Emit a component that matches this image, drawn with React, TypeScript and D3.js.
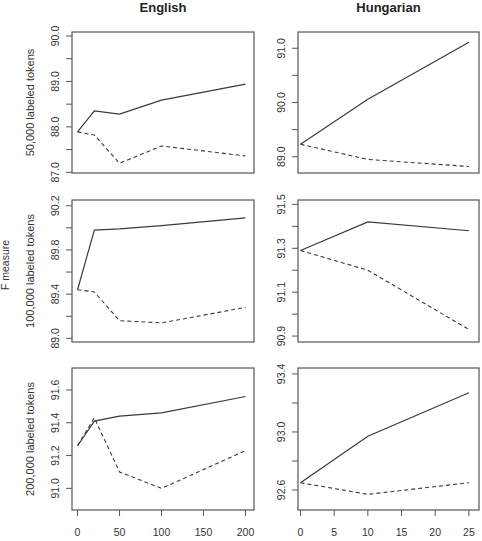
import React from "react";
import * as d3 from "d3";

// ---- data ----
const languages = ["English", "Hungarian"];
const rowLabels = ["50,000 labeled tokens", "100,000 labeled tokens", "200,000 labeled tokens"];
const yAxisTitle = "F measure";

const englishX = [0, 20, 50, 100, 200];
const hungarianX = [0, 10, 25];
const englishXTicks = [0, 50, 100, 150, 200];
const hungarianXTicks = [0, 5, 10, 15, 20, 25];

// English series (solid / dashed) per row
const en50kSolid = [87.89, 88.35, 88.28, 88.59, 88.94];
const en50kDashed = [87.89, 87.82, 87.2, 87.58, 87.36];
const en100kSolid = [89.44, 89.98, 89.99, 90.02, 90.09];
const en100kDashed = [89.44, 89.42, 89.16, 89.14, 89.28];
const en200kSolid = [91.26, 91.41, 91.44, 91.46, 91.56];
const en200kDashed = [91.26, 91.43, 91.1, 91.0, 91.23];

// Hungarian series
const hu50kSolid = [89.23, 90.06, 91.11];
const hu50kDashed = [89.23, 88.95, 88.82];
const hu100kSolid = [91.29, 91.42, 91.38];
const hu100kDashed = [91.29, 91.2, 90.93];
const hu200kSolid = [92.65, 92.97, 93.27];
const hu200kDashed = [92.65, 92.57, 92.65];

// y-axis ticks (all) and labelled ticks
const en50kTicks = [87, 87.5, 88, 88.5, 89, 89.5, 90];
const en50kLabels = [87, 88, 89, 90];
const en100kTicks = [89.0, 89.2, 89.4, 89.6, 89.8, 90.0, 90.2];
const en100kLabels = [89.0, 89.4, 89.8, 90.2];
const en200kTicks = [91.0, 91.2, 91.4, 91.6];
const en200kLabels = [91.0, 91.2, 91.4, 91.6];
const hu50kTicks = [89, 89.5, 90, 90.5, 91];
const hu50kLabels = [89, 90, 91];
const hu100kTicks = [90.9, 91.0, 91.1, 91.2, 91.3, 91.4, 91.5];
const hu100kLabels = [90.9, 91.1, 91.3, 91.5];
const hu200kTicks = [92.6, 92.8, 93.0, 93.2, 93.4];
const hu200kLabels = [92.6, 93.0, 93.4];

// y limits of each panel
const en50kLim = [86.985, 90.088];
const en100kLim = [88.967, 90.252];
const en200kLim = [90.868, 91.734];
const hu50kLim = [88.7, 91.3];
const hu100kLim = [90.873, 91.52];
const hu200kLim = [92.462, 93.441];
const enXLim = [-6.6, 210.1];
const huXLim = [-0.37, 26.5];

// ---- layout ----
const W = 482;
const H = 541;
const cols = [
  { left: 72, right: 254 },
  { left: 298, right: 479 },
];
const rows = [
  { top: 32, bottom: 173 },
  { top: 200, bottom: 342 },
  { top: 368, bottom: 510 },
];

const FONT = "'Liberation Sans', Arial, Helvetica, sans-serif";
const TEXT = "#333";
const LINE = "#3a3a3a";
const BOX = "#555";

type Panel = {
  x: number[];
  solid: number[];
  dashed: number[];
  ticks: number[];
  labels: number[];
  ylim: number[];
  xlim: number[];
};

const panels: Panel[][] = [
  [
    { x: englishX, solid: en50kSolid, dashed: en50kDashed, ticks: en50kTicks, labels: en50kLabels, ylim: en50kLim, xlim: enXLim },
    { x: hungarianX, solid: hu50kSolid, dashed: hu50kDashed, ticks: hu50kTicks, labels: hu50kLabels, ylim: hu50kLim, xlim: huXLim },
  ],
  [
    { x: englishX, solid: en100kSolid, dashed: en100kDashed, ticks: en100kTicks, labels: en100kLabels, ylim: en100kLim, xlim: enXLim },
    { x: hungarianX, solid: hu100kSolid, dashed: hu100kDashed, ticks: hu100kTicks, labels: hu100kLabels, ylim: hu100kLim, xlim: huXLim },
  ],
  [
    { x: englishX, solid: en200kSolid, dashed: en200kDashed, ticks: en200kTicks, labels: en200kLabels, ylim: en200kLim, xlim: enXLim },
    { x: hungarianX, solid: hu200kSolid, dashed: hu200kDashed, ticks: hu200kTicks, labels: hu200kLabels, ylim: hu200kLim, xlim: huXLim },
  ],
];
const xTicksByCol = [englishXTicks, hungarianXTicks];

function PanelView({ p, ri, ci }: { p: Panel; ri: number; ci: number }) {
  const c = cols[ci];
  const r = rows[ri];
  const xs = d3.scaleLinear().domain(p.xlim).range([c.left, c.right]);
  const ys = d3.scaleLinear().domain(p.ylim).range([r.bottom, r.top]);
  const line = d3
    .line<number>()
    .x((_, i) => xs(p.x[i]))
    .y((d) => ys(d));
  const fmt = d3.format(".1f");
  const isLabel = (t: number) => p.labels.some((l) => Math.abs(l - t) < 1e-6);
  const showX = ri === rows.length - 1;
  return (
    <g>
      <path d={line(p.dashed) || ""} fill="none" stroke={LINE} strokeWidth={1.1} strokeDasharray="4,3" />
      <path d={line(p.solid) || ""} fill="none" stroke={LINE} strokeWidth={1.2} />
      <rect x={c.left} y={r.top} width={c.right - c.left} height={r.bottom - r.top} fill="none" stroke={BOX} strokeWidth={1.2} />
      {p.ticks.map((t) => (
        <line key={"yt" + t} x1={c.left - 6} x2={c.left} y1={ys(t)} y2={ys(t)} stroke={BOX} strokeWidth={1} />
      ))}
      {p.ticks.filter(isLabel).map((t) => (
        <text
          key={"yl" + t}
          transform={`translate(${c.left - 13.5},${ys(t)}) rotate(-90)`}
          textAnchor="middle"
          fontSize={10.5}
          fontFamily={FONT}
          fill={TEXT}
        >
          {fmt(t)}
        </text>
      ))}
      {showX &&
        xTicksByCol[ci].map((t) => (
          <g key={"xt" + t}>
            <line x1={xs(t)} x2={xs(t)} y1={r.bottom} y2={r.bottom + 6} stroke={BOX} strokeWidth={1} />
            <text x={xs(t)} y={r.bottom + 25.5} textAnchor="middle" fontSize={10.5} fontFamily={FONT} fill={TEXT}>
              {t}
            </text>
          </g>
        ))}
    </g>
  );
}

export default function App() {
  return (
    <svg
      width={W}
      height={H}
      viewBox={`0 0 ${W} ${H}`}
      style={{ position: "absolute", left: 0, top: 0, background: "#fff" }}
    >
      <rect x={0} y={0} width={W} height={H} fill="#fff" />
      {languages.map((lang, ci) => (
        <text
          key={lang}
          x={(cols[ci].left + cols[ci].right) / 2}
          y={11.5}
          textAnchor="middle"
          fontSize={13}
          fontWeight="bold"
          fontFamily={FONT}
          fill="#222"
        >
          {lang}
        </text>
      ))}
      {rowLabels.map((lab, ri) => (
        <text
          key={lab}
          transform={`translate(33.5,${(rows[ri].top + rows[ri].bottom) / 2}) rotate(-90)`}
          textAnchor="middle"
          fontSize={11}
          fontFamily={FONT}
          fill={TEXT}
        >
          {lab}
        </text>
      ))}
      <text
        transform={`translate(9,265) rotate(-90)`}
        textAnchor="middle"
        fontSize={10.5}
        fontFamily={FONT}
        fill={TEXT}
      >
        {yAxisTitle}
      </text>
      {panels.map((row, ri) => row.map((p, ci) => <PanelView key={ri + "-" + ci} p={p} ri={ri} ci={ci} />))}
    </svg>
  );
}
